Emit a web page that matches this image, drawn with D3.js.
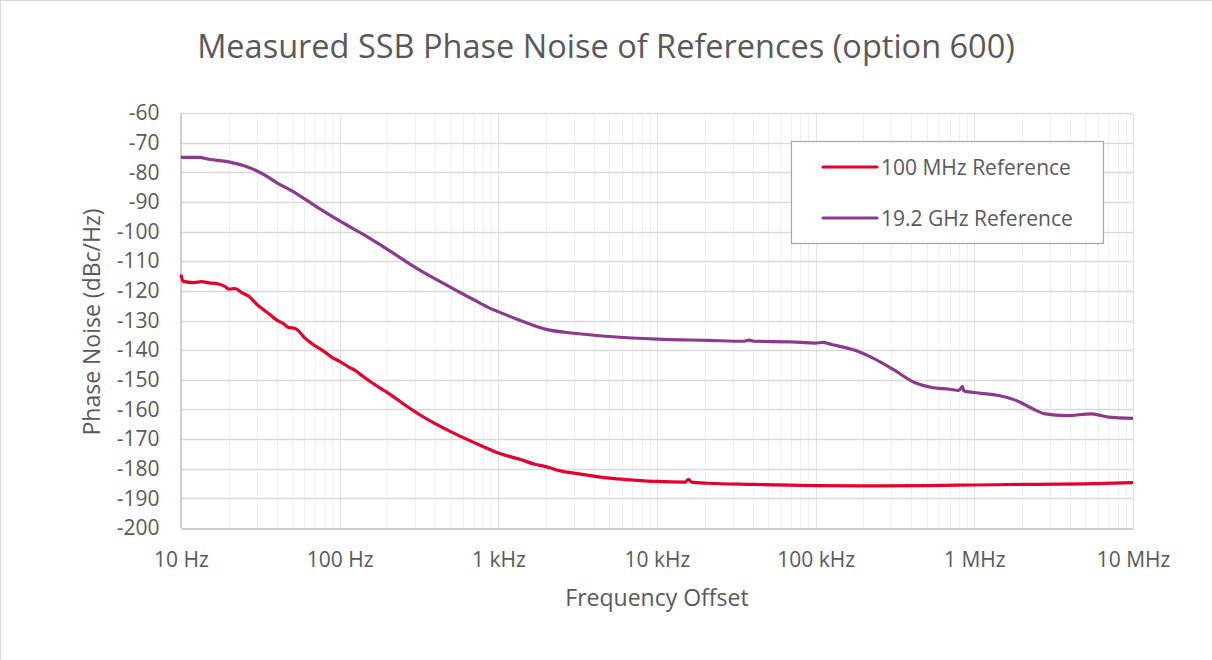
<!DOCTYPE html>
<html><head><meta charset="utf-8">
<script src="https://cdn.jsdelivr.net/npm/d3@7"></script>
<style>body{margin:0;background:#fff;}svg{display:block;font-family:"Open Sans",sans-serif;}</style>
</head><body>
<svg id="c" width="1212" height="660"></svg>
<script>
const title = "Measured SSB Phase Noise of References (option 600)";
const xTitle = "Frequency Offset";
const yTitle = "Phase Noise (dBc/Hz)";
const seriesNames = ["100 MHz Reference", "19.2 GHz Reference"];
const seriesColors = ["#e6002d", "#8c3a8c"];
const xTickValues = [10, 100, 1e3, 1e4, 1e5, 1e6, 1e7];
const xTickLabels = ["10 Hz", "100 Hz", "1 kHz", "10 kHz", "100 kHz", "1 MHz", "10 MHz"];
const yTickValues = [-60,-70,-80,-90,-100,-110,-120,-130,-140,-150,-160,-170,-180,-190,-200];

const ref100Freq = [10,10.3,12,13.5,15,17,19,20,22,24,27,30,33,36,40,44,48,52,55,60,70,80,90,100,115,125,140,160,180,200,250,320,400,500,640,800,1000,1400,1700,2000,2200,2500,3000,4000,5000,7000,10000,15000,15800,16500,21000,40000,100000,200000,500000,1e6,2e6,5e6,1e7];
const ref100dB = [-114.5,-116.8,-117.2,-116.9,-117.3,-117.6,-118.6,-119.4,-119.2,-120.5,-122.0,-124.5,-126.3,-127.8,-129.8,-131.0,-132.4,-132.6,-133.5,-135.8,-138.5,-140.5,-142.5,-143.8,-145.8,-146.8,-148.8,-151.0,-152.8,-154.3,-158.0,-161.8,-164.8,-167.5,-170.2,-172.5,-174.7,-177.0,-178.5,-179.3,-180.0,-180.8,-181.5,-182.5,-183.2,-183.8,-184.3,-184.5,-183.6,-184.5,-184.9,-185.3,-185.7,-185.8,-185.7,-185.5,-185.3,-185.1,-184.7];

const ref192Freq = [10,13,15,20,25,30,35,40,50,70,100,140,200,310,500,700,890,1000,1300,2000,3000,5000,10000,21000,35000,38000,41000,70000,100000,110000,128000,173000,230000,310000,420000,530000,700000,800000,840000,860000,1e6,1.45e6,1.9e6,2.3e6,2.8e6,3.8e6,5.5e6,7e6,1e7];
const ref192dB = [-75.0,-75.0,-75.6,-76.5,-77.8,-79.5,-81.5,-83.5,-86.3,-91.3,-96.4,-100.9,-106.0,-112.6,-118.8,-123.0,-125.9,-127.0,-129.5,-133.0,-134.3,-135.4,-136.3,-136.7,-137.0,-136.6,-137.0,-137.2,-137.6,-137.4,-138.2,-139.9,-142.7,-146.6,-150.9,-152.5,-153.2,-153.6,-152.3,-153.8,-154.3,-155.4,-157.3,-159.6,-161.5,-162.1,-161.5,-162.6,-163.0];

const svg = d3.select("#c");
const M = {left:181, right:1133, top:113, bottom:528};
const x = d3.scaleLog().domain([10, 1e7]).range([M.left, M.right]);
const y = d3.scaleLinear().domain([-60, -200]).range([M.top, M.bottom]);
const textCol = "#595959";

// outer chart border
svg.append("rect").attr("x",0.5).attr("y",0.5).attr("width",1400).attr("height",900)
  .attr("fill","none").attr("stroke","#d9d9d9");

// minor vertical gridlines
const minor = [];
for (let d = 10; d < 1e7; d *= 10) for (let k = 2; k <= 9; k++) minor.push(d*k);
svg.append("g").selectAll("line").data(minor).join("line")
  .attr("x1", d=>Math.round(x(d))+0.5).attr("x2", d=>Math.round(x(d))+0.5)
  .attr("y1", M.top).attr("y2", M.bottom).attr("stroke","#efefef").attr("stroke-width",1);
svg.append("g").selectAll("line").data(xTickValues.slice(1)).join("line")
  .attr("x1", d=>Math.round(x(d))+0.5).attr("x2", d=>Math.round(x(d))+0.5)
  .attr("y1", M.top).attr("y2", M.bottom).attr("stroke","#e2e2e2").attr("stroke-width",1);
// horizontal gridlines
svg.append("g").selectAll("line").data(yTickValues.slice(0,-1)).join("line")
  .attr("x1", M.left).attr("x2", M.right)
  .attr("y1", d=>Math.round(y(d))+0.5).attr("y2", d=>Math.round(y(d))+0.5)
  .attr("stroke","#d9d9d9").attr("stroke-width",1.3);

// axes
const xAxis = svg.append("g").attr("transform",`translate(0,${Math.round(y(-200))+0.5})`)
  .call(d3.axisBottom(x).tickValues(xTickValues).tickFormat((d,i)=>xTickLabels[i]).tickSize(0).tickPadding(24));
xAxis.select(".domain").attr("stroke","#bfbfbf").attr("stroke-width",1.5);
xAxis.selectAll("text").attr("fill",textCol).style("font-size","21px").style("font-family","'Open Sans',sans-serif");
const yAxis = svg.append("g").attr("transform",`translate(${M.left-0.5},0)`)
  .call(d3.axisLeft(y).tickValues(yTickValues).tickFormat(d=>String(d)).tickSize(0).tickPadding(21));
yAxis.select(".domain").attr("stroke","#bfbfbf").attr("stroke-width",1.5);
yAxis.selectAll("text").attr("fill",textCol).style("font-size","21px").style("font-family","'Open Sans',sans-serif");

// lines
const line = d3.line().x(d=>x(d[0])).y(d=>y(d[1])).curve(d3.curveMonotoneX);
const series = [d3.zip(ref100Freq, ref100dB), d3.zip(ref192Freq, ref192dB)];
series.forEach((s,i)=>{
  svg.append("path").datum(s).attr("d",line).attr("fill","none")
    .attr("stroke",seriesColors[i]).attr("stroke-width",3.2).attr("stroke-linejoin","round");
});

// title
svg.append("text").attr("x",606).attr("y",58).attr("text-anchor","middle")
  .attr("fill",textCol).style("font-size","32.5px").text(title);
svg.append("text").attr("x",657).attr("y",606).attr("text-anchor","middle")
  .attr("fill",textCol).style("font-size","23px").text(xTitle);
svg.append("text").attr("transform","translate(100,322) rotate(-90)").attr("text-anchor","middle")
  .attr("fill",textCol).style("font-size","23px").text(yTitle);

// legend
const lg = svg.append("g");
lg.append("rect").attr("x",791.5).attr("y",141.5).attr("width",312).attr("height",102)
  .attr("fill","#fff").attr("stroke","#a6a6a6").attr("stroke-width",1.2);
seriesNames.forEach((n,i)=>{
  const yy = 167 + i*51;
  lg.append("line").attr("x1",823).attr("x2",877).attr("y1",yy).attr("y2",yy)
    .attr("stroke",seriesColors[i]).attr("stroke-width",3.2).attr("stroke-linecap","round");
  lg.append("text").attr("x",881).attr("y",yy+7.5).attr("fill",textCol)
    .style("font-size","21px").text(n);
});
</script>
</body></html>
